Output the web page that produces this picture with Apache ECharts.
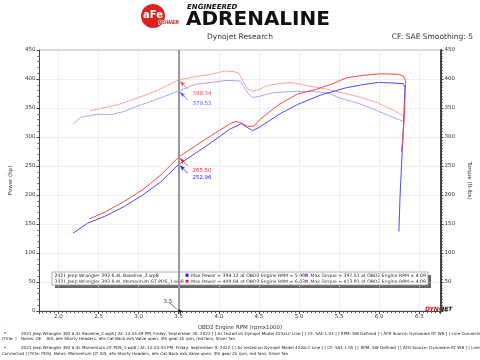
<!DOCTYPE html>
<html><head><meta charset="utf-8">
<script src="https://cdn.jsdelivr.net/npm/echarts@6/dist/echarts.min.js"></script>
<style>html,body{margin:0;padding:0;background:#fff}#c{width:480px;height:360px}</style>
</head><body><div id="c"></div>
<script>
// ---- data ----
const baseTorqueRpm = [2.18, 2.28, 2.48, 2.67, 2.82, 2.98, 3.21, 3.50, 3.71, 3.90, 4.09, 4.25, 4.28, 4.36, 4.42, 4.50, 4.67, 4.85, 5.05, 5.20, 5.36, 5.51, 5.67, 5.78, 5.98, 6.17, 6.30];
const baseTorque    = [322, 334, 339, 339, 344, 353, 364, 379.53, 391, 394, 397.5, 397, 394, 376, 368, 370, 376, 378, 379, 378, 376, 367, 361, 356, 345, 334, 327];
const pdsTorqueRpm  = [2.39, 2.55, 2.75, 2.98, 3.21, 3.50, 3.70, 3.90, 4.08, 4.18, 4.25, 4.30, 4.36, 4.42, 4.50, 4.59, 4.75, 4.90, 5.05, 5.20, 5.36, 5.55, 5.78, 5.98, 6.10, 6.21, 6.30];
const pdsTorque     = [345, 350, 356, 367, 379, 398.34, 404, 408, 413.9, 413, 410, 397, 383, 379, 382, 388, 392, 394, 390, 386, 382, 376, 368, 359, 351, 344, 336];
const basePowerRpm  = [2.18, 2.36, 2.59, 2.82, 3.05, 3.28, 3.50, 3.71, 3.90, 4.13, 4.28, 4.36, 4.42, 4.51, 4.75, 4.98, 5.28, 5.44, 5.59, 5.78, 5.99, 6.17, 6.30, 6.32, 6.30, 6.26, 6.245];
const basePower     = [134, 151, 164, 180, 200, 223, 252.96, 272, 290, 313, 323, 316, 311, 317, 339, 356, 373, 379, 385, 390, 394.12, 393, 392, 385, 315, 200, 137];
const pdsPowerRpm   = [2.39, 2.59, 2.82, 3.05, 3.28, 3.50, 3.71, 3.90, 4.13, 4.21, 4.28, 4.36, 4.44, 4.51, 4.75, 4.98, 5.21, 5.44, 5.59, 5.78, 6.03, 6.24, 6.30, 6.33, 6.31, 6.29, 6.276];
const pdsPower      = [159, 171, 189, 209, 235, 265.5, 285, 302, 322, 327, 324, 318, 319, 330, 356, 374, 382, 393, 402, 406, 409.04, 408, 405, 396, 327, 292, 275];
const cursorRpm = 3.5;
const cursorLabels = ['398.34', '379.53', '265.50', '252.96'];
const runNames = ['2021 Jeep Wrangler 392 6.4L Baseline_2.wp8', '2021 Jeep Wrangler 392 6.4L Momentum GT PDS_1.wp8'];
const maxPowerText = ['Max Power = 394.12 at OBD2 Engine RPM = 5.99', 'Max Power = 409.04 at OBD2 Engine RPM = 6.03'];
const maxTorqueText = ['Max Torque = 397.51 at OBD2 Engine RPM = 4.09', 'Max Torque = 413.91 at OBD2 Engine RPM = 4.08'];
const footer = [
 '2021 Jeep Wrangler 392 6.4L Baseline_2.wp8 [ At: 12:34:49 PM, Friday, September 30, 2022 ] [ As tested on Dynojet Model 424xLC Line ] [ CF: SAE 1.03 ] [ RPM: SW Defined ] [ AFR Source: Dynoware RT WB ] [ Line Connected',
 '[Title: ]',
 'Notes: OE    AIS, aFe Shorty Headers, aFe Cat-Back exh,Valve open, 4th gear 2k rpm, red fans, Silver fan',
 '2021 Jeep Wrangler 392 6.4L Momentum GT PDS_1.wp8 [ At: 12:24:44 PM, Friday, September 9, 2022 ] [ As tested on Dynojet Model 424xLC Line ] [ CF: SAE 1.05 ] [ RPM: SW Defined ] [ AFR Source: Dynoware RT WB ] [ Line',
 'Connected ] [Title: PDS]  Notes: Momentum GT AIS, aFe Shorty Headers, aFe Cat-Back exh,Valve open, 4th gear 2k rpm, red fans, Silver fan'
];

const C = { pBlue:'#4a4aff', pRed:'#ff4848', tBlue:'#a8a8ff', tRed:'#ffa0a0' };
const F = 'DejaVu Sans';
const zip = (a,b) => a.map((x,i)=>[x,b[i]]);

function mp(val, label, color){
  return {
    symbol:'arrow', symbolSize:[3,6], symbolRotate:45, symbolOffset:[1,1], silent:true,
    itemStyle:{color},
    label:{show:true, position:'right', distance:0, offset:[7,10], formatter:label, color, fontSize:5.5, fontFamily:F},
    data:[{coord:[cursorRpm, val]}]
  };
}

const chart = echarts.init(document.getElementById('c'), null, {renderer:'canvas'});
const lineBase = {type:'line', showSymbol:false, symbol:'none', silent:true, animation:false, lineStyle:{width:1}};
const ft = '4.1px "DejaVu Sans"';
const option = {
  animation:false,
  backgroundColor:'#fff',
  grid:{left:22, right:25, top:50, bottom:49, show:true, borderColor:'#bbb', borderWidth:1},
  xAxis:{type:'value', min:1.763, max:6.765, splitNumber:10,
    name:'OBD2 Engine RPM (rpmx1000)', nameLocation:'middle', nameGap:13,
    nameTextStyle:{fontSize:5.5, color:'#333', fontFamily:F},
    axisLine:{show:true, lineStyle:{color:'#444'}},
    axisTick:{show:true, length:3, lineStyle:{color:'#444'}},
    minorTick:{show:true, splitNumber:10, length:2, lineStyle:{color:'#555'}},
    axisLabel:{fontSize:5.5, color:'#333', margin:3, fontFamily:F, showMinLabel:false, showMaxLabel:false, formatter:v=>v.toFixed(1)},
    splitLine:{show:true, lineStyle:{color:'#ddd', type:'dotted'}}
  },
  yAxis:[
    {type:'value', min:0, max:450, interval:50, position:'left',
     name:'Power (hp)', nameLocation:'middle', nameGap:16, nameRotate:90,
     nameTextStyle:{fontSize:5.5, color:'#333', fontFamily:F},
     axisLine:{show:true, lineStyle:{color:'#444'}},
     axisTick:{show:true, length:3, lineStyle:{color:'#444'}},
     minorTick:{show:true, splitNumber:5, length:2, lineStyle:{color:'#666'}},
     axisLabel:{fontSize:5.5, color:'#333', margin:4, fontFamily:F},
     splitLine:{show:true, lineStyle:{color:'#ddd', type:'dotted'}}},
    {type:'value', min:0, max:450, interval:50, position:'right',
     name:'Torque (ft-lbs)', nameLocation:'middle', nameGap:16, nameRotate:-90,
     nameTextStyle:{fontSize:5.5, color:'#333', fontFamily:F},
     axisLine:{show:true, lineStyle:{color:'#444', width:2}},
     axisTick:{show:true, length:3, lineStyle:{color:'#444'}},
     minorTick:{show:true, splitNumber:10, length:2, lineStyle:{color:'#444'}},
     axisLabel:{fontSize:5.5, color:'#333', margin:4, fontFamily:F},
     splitLine:{show:false}}
  ],
  series:[
    Object.assign({}, lineBase, {name:'baseTorque', yAxisIndex:1, data:zip(baseTorqueRpm, baseTorque), lineStyle:{width:1,color:C.tBlue}, itemStyle:{color:C.tBlue},
      markPoint: mp(379.53, cursorLabels[1], '#5a5aff')}),
    Object.assign({}, lineBase, {name:'pdsTorque', yAxisIndex:1, data:zip(pdsTorqueRpm, pdsTorque), lineStyle:{width:1,color:C.tRed}, itemStyle:{color:C.tRed},
      markPoint: mp(398.34, cursorLabels[0], '#ff4a4a')}),
    Object.assign({}, lineBase, {name:'basePower', yAxisIndex:0, data:zip(basePowerRpm, basePower), lineStyle:{width:1,color:C.pBlue}, itemStyle:{color:C.pBlue},
      markPoint: mp(252.96, cursorLabels[3], '#2020ff')}),
    Object.assign({}, lineBase, {name:'pdsPower', yAxisIndex:0, data:zip(pdsPowerRpm, pdsPower), lineStyle:{width:1,color:C.pRed}, itemStyle:{color:C.pRed},
      markPoint: mp(265.50, cursorLabels[2], '#f02020'),
      markLine:{silent:true, symbol:'none', label:{show:false}, lineStyle:{color:'#999', width:2, type:'solid'}, data:[{xAxis:cursorRpm}]}}),
    {type:'scatter', yAxisIndex:0, data:[], silent:true,
      markPoint:{symbol:'arrow', symbolSize:[3,6], symbolRotate:45, symbolOffset:[-1,-2], itemStyle:{color:'#111'}, silent:true,
        label:{show:true, position:'left', distance:0, offset:[-4,-10], formatter:String(cursorRpm), color:'#333', fontSize:5.5, fontFamily:F},
        data:[{coord:[cursorRpm, 0]}]}}
  ],
  graphic:[
    // logo
    {type:'circle', shape:{cx:153, cy:16, r:12}, style:{fill:'#d9231d'}},
    {type:'text', left:143, top:10, style:{text:'aFe', fill:'#fff', font:'bold 10px "DejaVu Sans"'}},
    {type:'text', left:158, top:20, style:{text:'POWER', fill:'#d9231d', font:'italic bold 5px "DejaVu Sans"', stroke:'#fff', lineWidth:1}},
    {type:'text', left:187, top:4, style:{text:'ENGINEERED', fill:'#111', font:'italic bold 7px "DejaVu Sans"'}},
    {type:'text', left:186, top:10, style:{text:'ADRENALINE', fill:'#111', font:'bold 20px "DejaVu Sans"', shadowColor:'rgba(0,0,0,0.45)', shadowOffsetX:2, shadowOffsetY:2, shadowBlur:1}},
    {type:'text', x:240, y:37, style:{text:'Dynojet Research', fill:'#333', font:'7.5px "DejaVu Sans"', textAlign:'center', textVerticalAlign:'middle'}},
    {type:'text', x:473, y:37, style:{text:'CF: SAE Smoothing: 5', fill:'#333', font:'7.5px "DejaVu Sans"', textAlign:'right', textVerticalAlign:'middle'}},
    // legend box
    {type:'rect', shape:{x:55, y:275, width:376, height:13}, style:{fill:'#666'}},
    {type:'rect', shape:{x:52, y:272, width:376, height:13}, style:{fill:'#fff', stroke:'#999', lineWidth:0.8}},
    {type:'text', x:54.5, y:275.3, style:{text:runNames[0], fill:'#222', font:'4.6px "DejaVu Sans"', textVerticalAlign:'middle'}},
    {type:'text', x:54.5, y:281.5, style:{text:runNames[1], fill:'#222', font:'4.6px "DejaVu Sans"', textVerticalAlign:'middle'}},
    {type:'rect', shape:{x:185.5, y:273.6, width:3, height:3.2}, style:{fill:'#2020ff'}},
    {type:'rect', shape:{x:185.5, y:279.8, width:3, height:3.2}, style:{fill:'#ee1c1c'}},
    {type:'text', x:191, y:275.3, style:{text:maxPowerText[0], fill:'#222', font:'4.6px "DejaVu Sans"', textVerticalAlign:'middle'}},
    {type:'text', x:191, y:281.5, style:{text:maxPowerText[1], fill:'#222', font:'4.6px "DejaVu Sans"', textVerticalAlign:'middle'}},
    {type:'rect', shape:{x:305, y:273.6, width:3, height:3.2}, style:{fill:'#7a7aff'}},
    {type:'rect', shape:{x:305, y:279.8, width:3, height:3.2}, style:{fill:'#ff6a6a'}},
    {type:'text', x:310.5, y:275.3, style:{text:maxTorqueText[0], fill:'#222', font:'4.6px "DejaVu Sans"', textVerticalAlign:'middle'}},
    {type:'text', x:310.5, y:281.5, style:{text:maxTorqueText[1], fill:'#222', font:'4.6px "DejaVu Sans"', textVerticalAlign:'middle'}},
    // dynojet logo
    {type:'text', x:425, y:309.5, style:{text:'DYNO', fill:'#d01818', font:'italic bold 6px "DejaVu Sans"', textVerticalAlign:'middle'}},
    {type:'text', x:442, y:309.5, style:{text:'JET', fill:'#111', font:'italic bold 6px "DejaVu Sans"', textVerticalAlign:'middle'}},
    // footer
    {type:'circle', shape:{cx:5, cy:333, r:0.8}, style:{fill:'#2020ff'}},
    {type:'circle', shape:{cx:5, cy:347.5, r:0.8}, style:{fill:'#ee1c1c'}},
    {type:'text', x:21, y:334, style:{text:footer[0], fill:'#222', font:ft, textVerticalAlign:'middle'}},
    {type:'text', x:2, y:339.3, style:{text:footer[1], fill:'#222', font:ft, textVerticalAlign:'middle'}},
    {type:'text', x:21, y:339.3, style:{text:footer[2], fill:'#222', font:ft, textVerticalAlign:'middle'}},
    {type:'text', x:21, y:348.3, style:{text:footer[3], fill:'#222', font:ft, textVerticalAlign:'middle'}},
    {type:'text', x:2, y:353.5, style:{text:footer[4], fill:'#222', font:ft, textVerticalAlign:'middle'}}
  ]
};
chart.setOption(option);

// leader tails from value labels to the cursor points, positioned through the axes
const tails = [];
[[398.34,1,'#ff4a4a'],[379.53,1,'#5a5aff'],[265.50,0,'#f02020'],[252.96,0,'#2020ff']].forEach(([v,yi,col])=>{
  const p = chart.convertToPixel({xAxisIndex:0, yAxisIndex:yi}, [cursorRpm, v]);
  tails.push({type:'line', shape:{x1:p[0]+2, y1:p[1]+2, x2:p[0]+9, y2:p[1]+9}, style:{stroke:col, lineWidth:0.8}});
});
const p0 = chart.convertToPixel({xAxisIndex:0, yAxisIndex:0}, [cursorRpm, 0]);
tails.push({type:'line', shape:{x1:p0[0]-2, y1:p0[1]-2, x2:p0[0]-10, y2:p0[1]-9}, style:{stroke:'#333', lineWidth:0.7}});
chart.setOption({graphic: option.graphic.concat(tails)});
</script></body></html>
